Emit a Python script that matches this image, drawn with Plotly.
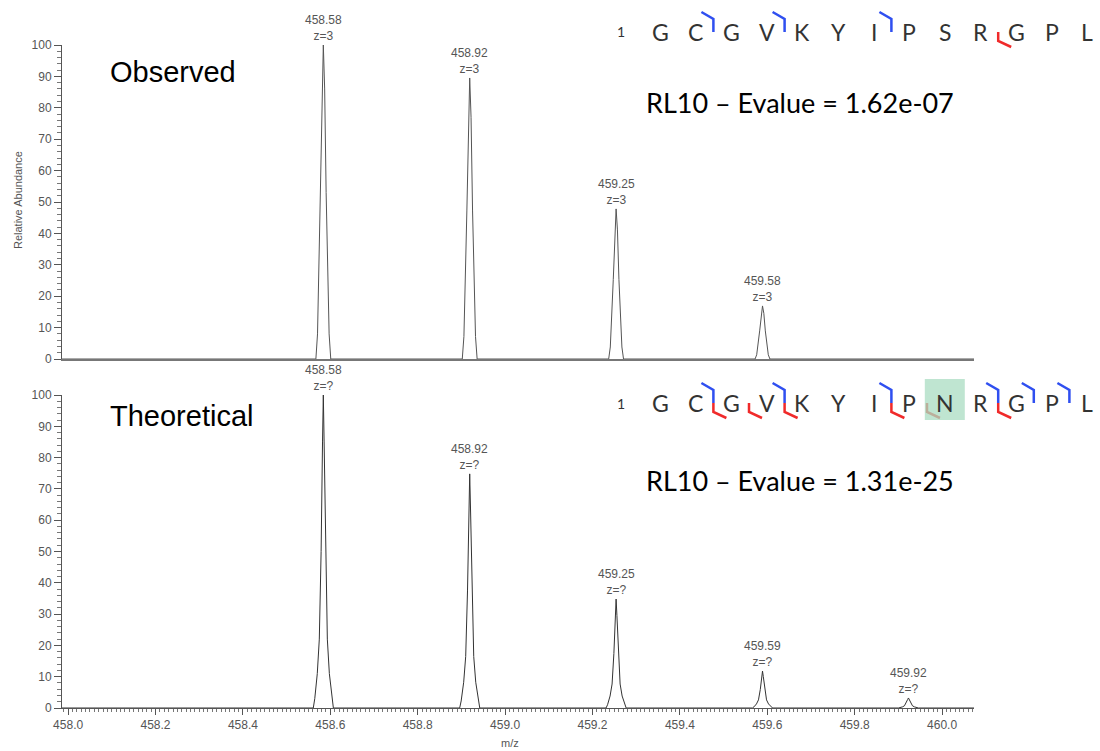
import plotly.graph_objects as go

# ---------------- data ----------------
obs_mz = [458.584, 458.919, 459.254, 459.589]
obs_int = [100, 89.5, 47.8, 16.9]
obs_labels = ["458.58", "458.92", "459.25", "459.58"]
obs_charge = "3"

theo_mz = [458.584, 458.919, 459.254, 459.589, 459.923]
theo_int = [100, 74.8, 34.8, 11.8, 3.2]
theo_labels = ["458.58", "458.92", "459.25", "459.59", "459.92"]
theo_charge = "?"

# peak profile templates (relative half-width offset, relative height)
obs_shape_dx = [-1, -0.78, -0.38, -0.18, 0, 0.18, 0.38, 0.78, 1]
obs_shape_rel = [0, 0.08, 0.53, 0.86, 1, 0.86, 0.53, 0.08, 0]
obs_halfwidth = 0.017
theo_shape_dx = [-1, -0.85, -0.6, -0.4, -0.22, -0.08, 0, 0.08, 0.22, 0.4, 0.6, 0.85, 1]
theo_shape_rel = [0, 0.03, 0.11, 0.22, 0.5, 0.85, 1, 0.85, 0.5, 0.22, 0.11, 0.03, 0]
theo_halfwidth = 0.023

seq_obs = list("GCGVKYIPSRGPL")
seq_theo = list("GCGVKYIPNRGPL")
b_obs, y_obs = [2, 4, 7], [10]
b_theo, y_theo = [2, 4, 7, 10, 11, 12], [2, 3, 4, 7, 8, 10]
highlight_theo = [9]

title_obs, title_theo = "Observed", "Theoretical"
eval_obs = "RL10 – Evalue = 1.62e-07"
eval_theo = "RL10 – Evalue = 1.31e-25"

X_MIN, X_MAX = 457.986, 460.073

# ---------------- helpers ----------------
W, H = 1100, 751
def px(x): return x / W
def py(y): return 1 - y / H

def profile(mz, inten, dx, rel, hw):
    xs, ys = [X_MIN], [0]
    for m, h in zip(mz, inten):
        for d, r in zip(dx, rel):
            xs.append(m + d * hw)
            ys.append(h * r)
    xs.append(X_MAX); ys.append(0)
    return xs, ys

fig = go.Figure()
xo, yo = profile(obs_mz, obs_int, obs_shape_dx, obs_shape_rel, obs_halfwidth)
xt, yt = profile(theo_mz, theo_int, theo_shape_dx, theo_shape_rel, theo_halfwidth)
fig.add_trace(go.Scatter(x=xo, y=yo, mode="lines", line=dict(color="#555", width=1),
                         xaxis="x", yaxis="y", showlegend=False, hoverinfo="skip"))
fig.add_trace(go.Scatter(x=xt, y=yt, mode="lines", line=dict(color="#333", width=1),
                         xaxis="x2", yaxis="y2", showlegend=False, hoverinfo="skip"))

ann = []
def note(x, y, text, font, xanchor="center", yanchor="middle", **kw):
    ann.append(dict(x=x, y=y, xref="paper", yref="paper", text=text, showarrow=False,
                    xanchor=xanchor, yanchor=yanchor, font=font, **kw))

lab_font = dict(family="Liberation Sans, Arial", size=12, color="#555")
for m, h, l in zip(obs_mz, obs_int, obs_labels):
    ann.append(dict(x=m, y=h, xref="x", yref="y", text=f"{l}<br>z={obs_charge}", showarrow=False,
                    xanchor="center", yanchor="bottom", yshift=0, font=lab_font))
for m, h, l in zip(theo_mz, theo_int, theo_labels):
    ann.append(dict(x=m, y=h, xref="x2", yref="y2", text=f"{l}<br>z={theo_charge}", showarrow=False,
                    xanchor="center", yanchor="bottom", yshift=0, font=lab_font))

big_font = dict(family="Liberation Sans, Arial", size=29, color="black")
note(px(108), py(72), title_obs, big_font, xanchor="left")
note(px(108), py(416), title_theo, big_font, xanchor="left")

ev_font = dict(family="Lato, Carlito, sans-serif", size=27, color="black")
note(px(644), py(103), eval_obs, ev_font, xanchor="left")
note(px(644), py(480), eval_theo, ev_font, xanchor="left")

ax_font = dict(family="Liberation Sans, Arial", size=11, color="#555")
note(px(18), py(200), "Relative Abundance", ax_font, textangle=-90)
note(px(510), py(743), "m/z", ax_font)

shapes = []
LX0, LDX = 660, 35.6
BLUE, RED = "#2f4ff0", "#f02a2a"

def seq_block(seq, yc, bs, ys, hl):
    note(px(621), py(yc), "1", dict(family="Lato, sans-serif", size=14, color="#333"))
    for i, ch in enumerate(seq):
        note(px(LX0 + i * LDX), py(yc), ch, dict(family="Lato, sans-serif", size=23, color="#333"))
    for i in bs:
        x = LX0 + (i - 0.5) * LDX
        shapes.append(dict(type="path", xref="paper", yref="paper",
                           path=f"M {px(x-12)},{py(yc-20)} L {px(x)},{py(yc-13)} L {px(x)},{py(yc)}",
                           line=dict(color=BLUE, width=2.5)))
    for i in ys:
        x = LX0 + (i - 0.5) * LDX
        shapes.append(dict(type="path", xref="paper", yref="paper",
                           path=f"M {px(x)},{py(yc)} L {px(x)},{py(yc+9)} L {px(x+13)},{py(yc+15)}",
                           line=dict(color=RED, width=2.5)))
    for i in hl:
        x = LX0 + (i - 1) * LDX
        shapes.append(dict(type="rect", xref="paper", yref="paper",
                           x0=px(x - 20), x1=px(x + 20), y0=py(yc + 17), y1=py(yc - 24),
                           fillcolor="#a9dcc1", opacity=0.75, line=dict(width=0)))

seq_block(seq_obs, 32, b_obs, y_obs, [])
seq_block(seq_theo, 403, b_theo, y_theo, highlight_theo)

tick_font = dict(family="Liberation Sans, Arial", size=12, color="#555")
xdom = [px(62), px(974)]
yaxis_common = dict(range=[0, 100], tickvals=list(range(0, 101, 10)), ticks="outside", ticklen=7,
                    tickcolor="#555", showline=True, linecolor="#555", linewidth=1,
                    showgrid=False, zeroline=False, tickfont=tick_font, automargin=False,
                    minor=dict(dtick=2, ticks="outside", ticklen=4, tickcolor="#777"))

fig.update_layout(
    width=W, height=H, margin=dict(l=0, r=0, t=0, b=0, pad=0, autoexpand=False),
    plot_bgcolor="white", paper_bgcolor="white",
    xaxis=dict(domain=xdom, range=[X_MIN, X_MAX], showticklabels=False, ticks="",
               showline=True, linecolor="#777", linewidth=2, showgrid=False, zeroline=False,
               anchor="y", automargin=False),
    yaxis=dict(domain=[py(359), py(45)], anchor="x", **yaxis_common),
    xaxis2=dict(domain=xdom, range=[X_MIN, X_MAX], tick0=458, dtick=0.2, tickformat=".1f",
                ticks="outside", ticklen=6, tickcolor="#555", showline=True, linecolor="#555",
                linewidth=1, showgrid=False, zeroline=False, tickfont=tick_font, anchor="y2",
                automargin=False,
                minor=dict(dtick=0.01, ticks="outside", ticklen=3, tickcolor="#777")),
    yaxis2=dict(domain=[py(708), py(395)], anchor="x2", **yaxis_common),
    annotations=ann, shapes=shapes,
)

fig.write_html("out.html")
